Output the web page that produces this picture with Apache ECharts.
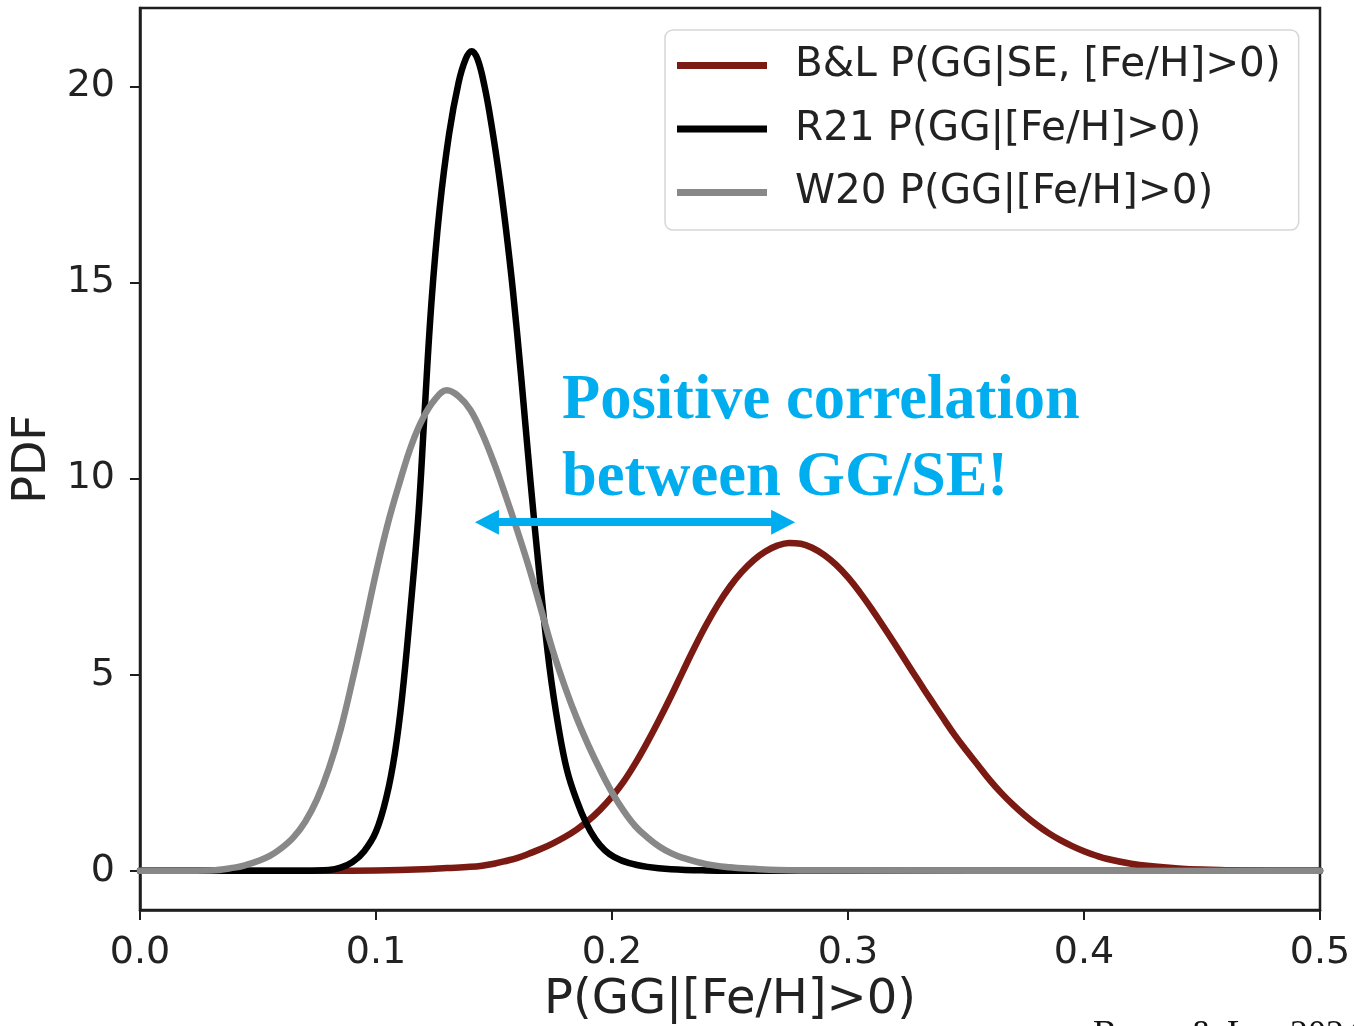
<!DOCTYPE html>
<html>
<head>
<meta charset="utf-8">
<script src="https://cdn.jsdelivr.net/npm/echarts@6/dist/echarts.min.js"></script>
<style>
html,body{margin:0;padding:0;background:#fff;}
#chart{width:1354px;height:1026px;}
</style>
</head>
<body>
<div id="chart"></div>
<script>
// ---- data ----
const seriesNames = ['B&L P(GG|SE, [Fe/H]>0)', 'R21 P(GG|[Fe/H]>0)', 'W20 P(GG|[Fe/H]>0)'];
const xTicks = [0, 0.1, 0.2, 0.3, 0.4, 0.5];
const yTicks = [0, 5, 10, 15, 20];

const blX = [0, 0.08, 0.1, 0.12, 0.13, 0.14, 0.145, 0.15, 0.155, 0.16, 0.165, 0.17, 0.175, 0.18, 0.185, 0.19, 0.195, 0.2, 0.205, 0.21, 0.215, 0.22, 0.225, 0.23, 0.235, 0.24, 0.245, 0.25, 0.255, 0.26, 0.265, 0.27, 0.275, 0.28, 0.285, 0.29, 0.295, 0.3, 0.305, 0.31, 0.315, 0.32, 0.325, 0.33, 0.335, 0.34, 0.345, 0.35, 0.355, 0.36, 0.365, 0.37, 0.375, 0.38, 0.385, 0.39, 0.395, 0.4, 0.405, 0.41, 0.42, 0.43, 0.44, 0.45, 0.46, 0.47, 0.5];
const blY = [0, 0, 0.01, 0.04, 0.07, 0.1, 0.13, 0.18, 0.25, 0.33, 0.44, 0.56, 0.7, 0.86, 1.05, 1.28, 1.56, 1.89, 2.28, 2.75, 3.28, 3.85, 4.45, 5.08, 5.7, 6.28, 6.8, 7.25, 7.62, 7.92, 8.14, 8.29, 8.36, 8.34, 8.23, 8.05, 7.8, 7.48, 7.1, 6.68, 6.23, 5.77, 5.3, 4.83, 4.37, 3.92, 3.48, 3.08, 2.7, 2.32, 1.98, 1.68, 1.41, 1.17, 0.96, 0.78, 0.63, 0.5, 0.39, 0.3, 0.18, 0.11, 0.06, 0.03, 0.015, 0.005, 0];

const r21X = [0, 0.07, 0.08, 0.085, 0.09, 0.095, 0.1, 0.1045, 0.108, 0.111, 0.1145, 0.118, 0.1205, 0.1235, 0.127, 0.131, 0.135, 0.138, 0.1405, 0.143, 0.146, 0.149, 0.152, 0.155, 0.158, 0.1615, 0.1655, 0.1695, 0.1735, 0.1775, 0.181, 0.185, 0.189, 0.193, 0.197, 0.201, 0.207, 0.215, 0.225, 0.24, 0.26, 0.5];
const r21Y = [0, 0, 0.02, 0.08, 0.22, 0.5, 1.0, 1.9, 3.0, 4.4, 6.6, 9.1, 11.6, 14.5, 16.9, 18.8, 20.1, 20.7, 20.9, 20.7, 20.0, 19.0, 17.8, 16.4, 14.8, 12.6, 9.9, 7.4, 5.2, 3.6, 2.55, 1.8, 1.22, 0.8, 0.52, 0.35, 0.2, 0.1, 0.04, 0.01, 0, 0];

const w20X = [0, 0.03, 0.04, 0.045, 0.05, 0.055, 0.06, 0.065, 0.07, 0.075, 0.08, 0.085, 0.09, 0.095, 0.1, 0.105, 0.11, 0.115, 0.12, 0.125, 0.13, 0.135, 0.14, 0.145, 0.15, 0.155, 0.16, 0.165, 0.17, 0.175, 0.18, 0.185, 0.19, 0.195, 0.2, 0.205, 0.21, 0.215, 0.22, 0.225, 0.23, 0.24, 0.25, 0.26, 0.27, 0.29, 0.5];
const w20Y = [0, 0.01, 0.08, 0.15, 0.25, 0.38, 0.58, 0.85, 1.25, 1.82, 2.6, 3.6, 4.85, 6.2, 7.6, 8.85, 9.9, 10.85, 11.55, 12.02, 12.25, 12.1, 11.75, 11.15, 10.4, 9.55, 8.65, 7.7, 6.65, 5.6, 4.7, 3.9, 3.2, 2.57, 2.0, 1.52, 1.13, 0.85, 0.62, 0.45, 0.33, 0.17, 0.09, 0.05, 0.02, 0.005, 0];

const arrowFrom = [0.147, 8.89];
const arrowTo = [0.2725, 8.89];
const noteLines = ['Positive correlation', 'between GG/SE!'];
const citation = 'Bryan & Lee 2024';

// ---- build ----
const zip = (xs, ys) => xs.map((x, i) => [x, ys[i]]);
const colors = ['#7b1a12', '#000000', '#888888'];
const cyan = '#00aeef';
const axisColor = '#1e1e1e';
const sans = 'DejaVu Sans';

const chart = echarts.init(document.getElementById('chart'), null, {renderer: 'canvas'});

const mkSeries = (name, data, color, extra) => Object.assign({
  name: name,
  type: 'line',
  data: data,
  showSymbol: false,
  smooth: 0.4,
  lineStyle: {color: color, width: 6.5, join: 'round', cap: 'round'},
  itemStyle: {color: color},
  z: 3,
  animation: false
}, extra || {});

const option = {
  animation: false,
  backgroundColor: '#ffffff',
  grid: {
    left: 140, right: 34, top: 8, bottom: 116,
    outerBoundsMode: 'none', containLabel: false,
    show: true, borderColor: axisColor, borderWidth: 2.5, backgroundColor: 'transparent'
  },
  xAxis: {
    type: 'value', min: 0, max: 0.5, interval: 0.1,
    splitLine: {show: false},
    axisLine: {show: true, onZero: false, lineStyle: {color: axisColor, width: 2.5}},
    axisTick: {show: true, inside: false, length: 10, lineStyle: {color: axisColor, width: 2}},
    axisLabel: {
      show: true, margin: 24, color: '#222', fontFamily: sans, fontSize: 38,
      formatter: v => v.toFixed(1),
      showMinLabel: true, showMaxLabel: true
    },
    name: 'P(GG|[Fe/H]>0)', nameLocation: 'middle', nameGap: 66,
    nameTextStyle: {color: '#222', fontFamily: sans, fontSize: 48}
  },
  yAxis: {
    type: 'value', min: -1, max: 22,
    splitLine: {show: false},
    axisLine: {show: true, onZero: false, lineStyle: {color: axisColor, width: 2.5}},
    axisTick: {show: true, inside: false, length: 10, lineStyle: {color: axisColor, width: 2}, customValues: yTicks},
    axisLabel: {
      show: true, margin: 25, color: '#222', fontFamily: sans, fontSize: 38,
      customValues: yTicks
    },
    name: 'PDF', nameLocation: 'middle', nameGap: 81, nameRotate: 90,
    nameTextStyle: {color: '#222', fontFamily: sans, fontSize: 46}
  },
  legend: {
    orient: 'vertical',
    left: 665, top: 30,
    data: seriesNames,
    icon: 'rect',
    itemWidth: 90, itemHeight: 7,
    itemGap: 22.5,
    padding: [15, 18, 17, 12],
    backgroundColor: 'rgba(255,255,255,0.85)',
    borderColor: '#d6d6d6', borderWidth: 1.5, borderRadius: 8,
    textStyle: {color: '#222', fontFamily: sans, fontSize: 40.5, padding: [0, 0, 0, 23]},
    selectedMode: false
  },
  series: [
    mkSeries(seriesNames[0], zip(blX, blY), colors[0], {
      markLine: {
        silent: true,
        symbol: ['triangle', 'triangle'],
        symbolSize: [25, 24],
        label: {show: false},
        lineStyle: {color: cyan, width: 8, type: 'solid', cap: 'butt'},
        itemStyle: {color: cyan},
        data: [[{coord: arrowFrom}, {coord: arrowTo}]],
        animation: false
      }
    }),
    mkSeries(seriesNames[1], zip(r21X, r21Y), colors[1]),
    mkSeries(seriesNames[2], zip(w20X, w20Y), colors[2])
  ],
  graphic: [
    {type: 'text', left: 562, top: 370, z: 10, style: {text: noteLines[0], fill: cyan, font: 'bold 62.5px "Liberation Serif"'}},
    {type: 'text', left: 562, top: 447, z: 10, style: {text: noteLines[1], fill: cyan, font: 'bold 62.5px "Liberation Serif"'}},
    {type: 'text', left: 1093, top: 1018, z: 10, style: {text: citation, fill: '#111', font: '36px "Liberation Serif"'}}
  ]
};
chart.setOption(option);
</script>
</body>
</html>
